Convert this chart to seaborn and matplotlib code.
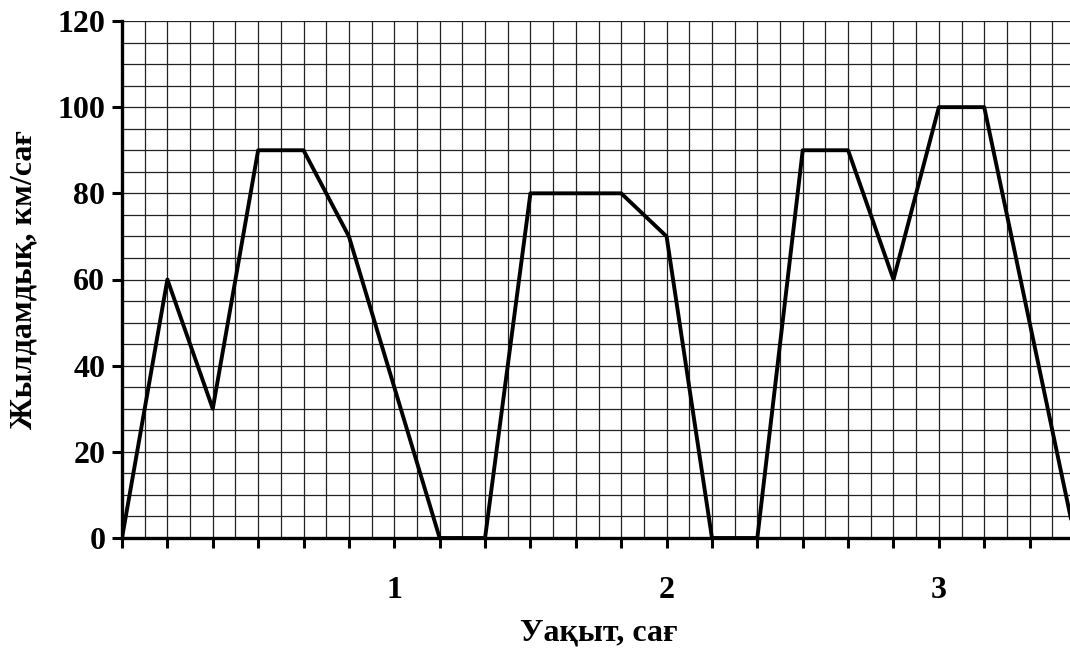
import matplotlib
matplotlib.use("Agg")
import numpy as np
import pandas as pd
import seaborn as sns
from matplotlib import pyplot as plt
from matplotlib.ticker import MultipleLocator, FixedLocator, FuncFormatter

# Time in hours (steps of 10 minutes)
time_h = [0, 1/6, 2/6, 3/6, 4/6, 5/6, 7/6, 8/6, 9/6, 11/6, 2, 13/6, 14/6,
          15/6, 16/6, 17/6, 3, 19/6, 21/6]
# Speed in km/h
speed = [0, 60, 30, 90, 90, 70, 0, 0, 80, 80, 70, 0, 0, 90, 90, 60, 100, 100, 0]

x_major = [i / 6 for i in range(0, 22)]
x_labels = {6: "1", 12: "2", 18: "3"}
y_ticks = [0, 20, 40, 60, 80, 100, 120]

if __name__ == "__main__":
    df = pd.DataFrame({"t": time_h, "v": speed})

    sns.set_theme(style="white")
    plt.rcParams["font.family"] = ["Liberation Serif", "DejaVu Serif"]
    plt.rcParams["font.weight"] = "bold"
    plt.rcParams["text.color"] = "black"
    plt.rcParams["axes.labelcolor"] = "black"
    plt.rcParams["xtick.color"] = "black"
    plt.rcParams["ytick.color"] = "black"

    fig = plt.figure(figsize=(10.7, 6.49), dpi=100)
    ax = fig.add_axes([122 / 1070, 111 / 649, 953 / 1070, 517 / 649])

    sns.lineplot(ax=ax, data=df, x="t", y="v", color="black", linewidth=2.8,
                 zorder=5, clip_on=True)

    ax.set_xlim(0, 3.5)
    ax.set_ylim(0, 120)

    # grid: every 5 minutes and every 5 km/h
    ax.xaxis.set_minor_locator(MultipleLocator(1 / 12))
    ax.yaxis.set_minor_locator(MultipleLocator(5))
    ax.grid(which="both", color="#222222", linewidth=0.9)
    ax.set_axisbelow(True)

    ax.xaxis.set_major_locator(FixedLocator(x_major))
    ax.xaxis.set_major_formatter(FuncFormatter(
        lambda v, p: x_labels.get(int(round(v * 6)), "")))
    ax.set_yticks(y_ticks)

    ax.tick_params(axis="both", which="major", direction="out", length=7,
                   width=2.2, color="black", labelcolor="black", labelsize=23,
                   bottom=True, left=True)
    ax.tick_params(axis="x", which="major", pad=20)
    ax.tick_params(axis="y", which="major", pad=5)
    ax.tick_params(which="minor", length=0)
    for lab in ax.get_xticklabels() + ax.get_yticklabels():
        lab.set_fontweight("bold")

    for side in ["top", "right"]:
        ax.spines[side].set_visible(False)
    for side in ["left", "bottom"]:
        ax.spines[side].set_linewidth(2.4)
        ax.spines[side].set_color("black")

    ax.set_xlabel("Уақыт, сағ", fontsize=23, fontweight="bold", labelpad=10,
                  color="black")
    ax.set_ylabel("Жылдамдық, км/сағ", fontsize=23, fontweight="bold",
                  labelpad=14, color="black")

    fig.savefig("out.png", dpi=100)
